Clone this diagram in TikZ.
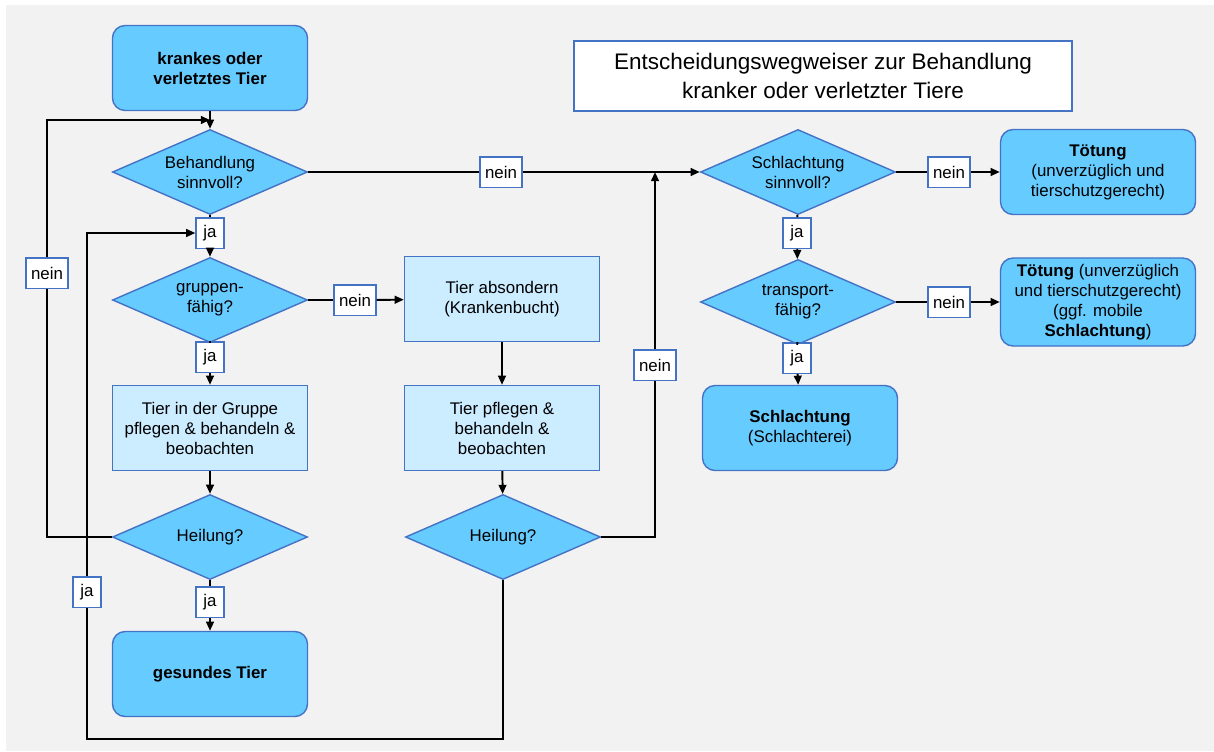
\documentclass[tikz,border=0pt]{standalone}
\usepackage{fontspec}
\setmainfont{Liberation Sans}
\usetikzlibrary{arrows.meta, shapes.geometric}
\definecolor{boxblue}{RGB}{68, 114, 196}
\definecolor{skyfill}{RGB}{102, 204, 255}
\definecolor{palefill}{RGB}{204, 236, 255}
\definecolor{pagegray}{RGB}{242, 242, 242}
\newcommand{\bodyfont}{\fontsize{12}{14.2}\selectfont}
\tikzset{
    term/.style  ={draw=boxblue, line width=1pt, fill=skyfill,
                   minimum width=4.875cm, minimum height=2.125cm,
                   align=center, font=\bodyfont, rounded corners=9pt},
    act/.style   ={draw=boxblue, line width=1pt, fill=palefill,
                   minimum width=4.875cm, minimum height=2.125cm,
                   align=center, font=\bodyfont},
    dec/.style   ={diamond, aspect=2.3, draw=boxblue, line width=1pt, fill=skyfill,
                   minimum width=4.875cm, minimum height=2.125cm, inner sep=0pt,
                   align=center, font=\bodyfont},
    tag/.style   ={draw=boxblue, line width=1pt, fill=white,
                   minimum width=0.7cm, minimum height=0.76cm,
                   inner xsep=3.5pt, inner ysep=0pt, font=\bodyfont},
    titlebox/.style={draw=boxblue, line width=1pt, fill=white,
                   minimum width=12.45cm, minimum height=1.75cm,
                   align=center, font=\fontsize{16}{21}\selectfont},
    ln/.style    ={line width=1.4pt, draw=black},
    ar/.style    ={ln, -{Triangle[length=6.5pt, width=5.5pt]}}
}

\begin{document}
\begin{tikzpicture}[x=0.025cm, y=-0.025cm]
  \useasboundingbox (0,0) rectangle (1214,751);
  \fill[pagegray] (6,5) rectangle (1214,751);

  \node[titlebox] (title) at (823,76)
       {Entscheidungswegweiser zur Behandlung\\kranker oder verletzter Tiere};

  % left column
  \node[term] (start)   at (210,68)  {\textbf{krankes oder}\\\textbf{verletztes Tier}};
  \node[dec]  (d1)      at (210,172) {Behandlung\\sinnvoll?};
  \node[dec]  (d2)      at (210,300) {gruppen-\\fähig?};
  \node[act]  (grp)     at (210,428) {Tier in der Gruppe\\pflegen \& behandeln \&\\beobachten};
  \node[dec]  (d3)      at (210,537) {Heilung?};
  \node[term] (healthy) at (210,674) {\textbf{gesundes Tier}};

  % middle column
  \node[act]  (absond)  at (502,299) {Tier absondern\\(Krankenbucht)};
  \node[act]  (pfl)     at (502,428) {Tier pflegen \&\\behandeln \&\\beobachten};
  \node[dec]  (d4)      at (503,537) {Heilung?};

  % right part
  \node[dec]  (d5)      at (798,172) {Schlachtung\\sinnvoll?};
  \node[dec]  (d6)      at (798,302) {transport-\\fähig?};
  \node[term] (schl)    at (800,428) {\textbf{Schlachtung}\\(Schlachterei)};
  \node[term] (toet1)   at (1098,172) {\textbf{Tötung}\\(unverzüglich und\\tierschutzgerecht)};
  \node[term, minimum height=2.2cm] (toet2) at (1098,302)
       {\textbf{Tötung} (unverzüglich\\und tierschutzgerecht)\\(ggf. mobile\\\textbf{Schlachtung})};

  % answer tags
  \node[tag] (ja1)   at (210,233) {ja};
  \node[tag] (ja2)   at (210,357) {ja};
  \node[tag] (ja3)   at (210,602) {ja};
  \node[tag] (ja4)   at (87,592)  {ja};
  \node[tag] (ja5)   at (797,233) {ja};
  \node[tag] (ja6)   at (797,358) {ja};
  \node[tag] (nein1) at (47,273)  {nein};
  \node[tag] (nein2) at (355,300) {nein};
  \node[tag] (nein3) at (501,172) {nein};
  \node[tag] (nein4) at (655,365) {nein};
  \node[tag] (nein5) at (949,172) {nein};
  \node[tag] (nein6) at (949,302) {nein};

  \coordinate (j1) at (210,120);
  \coordinate (j2) at (655,172);
  \coordinate (c1) at (87,739);

  \draw[ar] (start) -- (d1);
  \draw[ln] (d1) -- (ja1);
  \draw[ar] (ja1) -- (d2);
  \draw[ln] (d2) -- (ja2);
  \draw[ar] (ja2) -- (grp);
  \draw[ar] (grp) -- (d3);
  \draw[ln] (d3) -- (ja3);
  \draw[ar] (ja3) -- (healthy);
  \draw[ln] (d2.east) -- (nein2);
  \draw[ar] (nein2) -- (absond);
  \draw[ar] (absond) -- (pfl);
  \draw[ar] (pfl) -- (d4);

  \draw[ln] (d3.west) -| (nein1.south);
  \draw[ar] (nein1.north) |- (j1);
  \draw[ln] (d4.south) |- (c1) -- (ja4.south);
  \draw[ar] (ja4.north) |- (ja1.west);
  \draw[ln] (d4.east) -| (nein4.south);
  \draw[ar] (nein4.north) -- (j2);

  \draw[ln] (d1.east) -- (nein3);
  \draw[ar] (nein3) -- (d5.west);
  \draw[ln] (d5.east) -- (nein5);
  \draw[ar] (nein5) -- (toet1);
  \draw[ln] (d5) -- (ja5);
  \draw[ar] (ja5) -- (d6);
  \draw[ln] (d6.east) -- (nein6);
  \draw[ar] (nein6) -- (toet2);
  \draw[ln] (d6) -- (ja6);
  \draw[ar] (ja6) -- (schl);
\end{tikzpicture}
\end{document}
